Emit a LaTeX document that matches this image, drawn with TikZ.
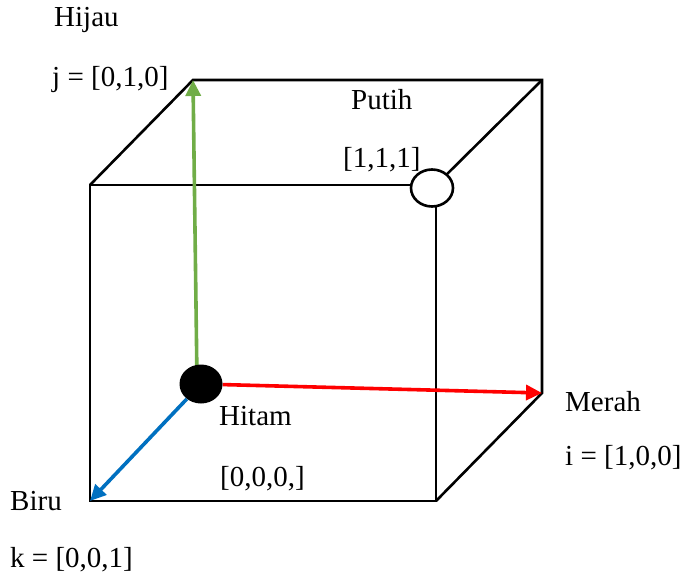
\documentclass[tikz,border=0pt]{standalone}
\usepackage{fontspec}
\setmainfont{Liberation Serif}
\usetikzlibrary{arrows.meta,shapes.geometric}
\definecolor{vgreen}{RGB}{112,173,71}
\definecolor{vblue}{RGB}{0,112,192}
\definecolor{vred}{RGB}{255,0,0}
\begin{document}
\begin{tikzpicture}[x=1pt,y=-1pt,
  edge/.style={line width=2.6pt,line join=miter},
  vec/.style={line width=3.6pt,-{Triangle[length=16pt,width=15pt]}},
  lbl/.style={anchor=base west,inner sep=0pt,font=\fontsize{29}{34}\selectfont},
  dot/.style={ellipse,inner sep=0pt,minimum width=43pt,minimum height=39pt}]
\useasboundingbox (0,0) rectangle (688,578);
% cube corners
\coordinate (ftl) at (90,185);
\coordinate (ftr) at (436,185);
\coordinate (fbl) at (90,501);
\coordinate (fbr) at (436,501);
\coordinate (btl) at (193,80);
\coordinate (btr) at (542,80);
\coordinate (bbr) at (542,393);
% edges
\draw[edge] (ftl) -- (ftr) -- (fbr) -- (fbl) -- cycle;
\draw[edge] (ftl) -- (btl) -- (btr) -- (bbr) -- (fbr);
\draw[edge] (btr) -- (ftr);
% origin and vectors
\node[dot] (hitam) at (201,384) {};
\draw[vec,vgreen] (hitam.center) ++(-4,-4) coordinate (gs) (gs) -- (btl);
\draw[vec,vred] (hitam) -- (bbr);
\draw[vec,vblue] (hitam) -- (fbl);
\node[dot,fill=black] at (hitam) {};
\node[dot,draw=black,line width=2.6pt,fill=white,minimum width=42pt,minimum height=37pt] (putih) at (432,188) {};
% labels
\node[lbl] (l1) at (54,27) {Hijau};
\node[lbl] (l2) at (52,87) {j = [0,1,0]};
\node[lbl] (l3) at (351,110) {Putih};
\node[lbl] (l4) at (343,167) {[1,1,1]};
\node[lbl] (l5) at (219,425) {Hitam};
\node[lbl] (l6) at (220,486) {[0,0,0,]};
\node[lbl] (l7) at (565,411) {Merah};
\node[lbl] (l8) at (565,465) {i = [1,0,0]};
\node[lbl] (l9) at (10,510) {Biru};
\node[lbl] (l10) at (10,567) {k = [0,0,1]};
\end{tikzpicture}
\end{document}
